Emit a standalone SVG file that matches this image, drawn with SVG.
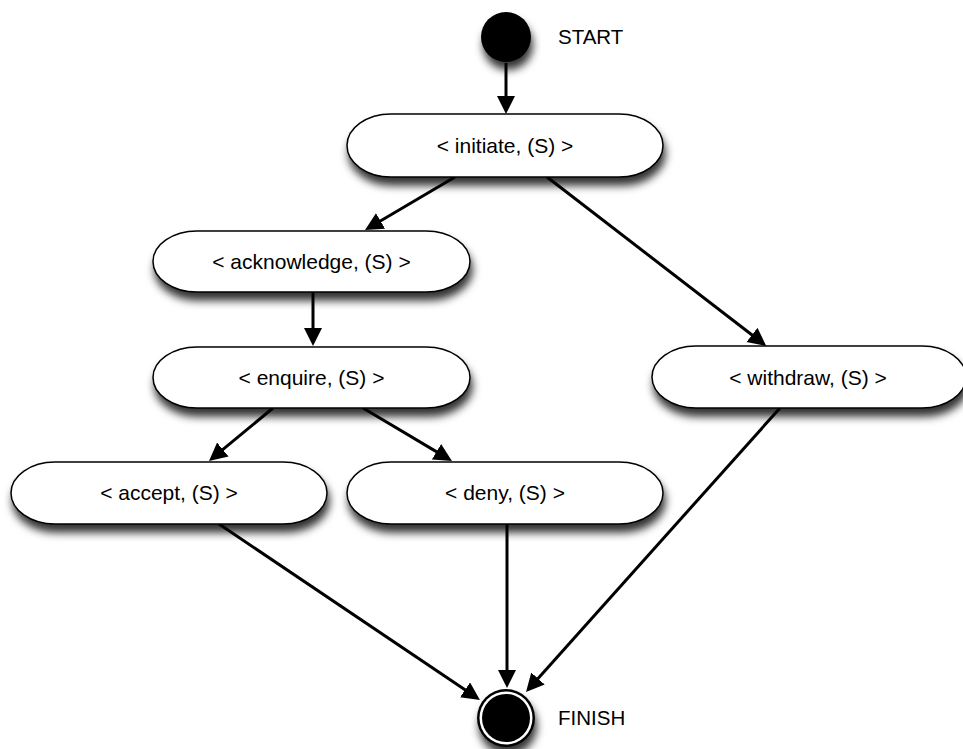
<svg xmlns="http://www.w3.org/2000/svg" width="963" height="749" viewBox="0 0 963 749">
  <style>
    .state { fill: #ffffff; stroke: #000000; stroke-width: 1.5; filter: url(#shadow); }
    .label { font-family: "Liberation Sans", Arial, sans-serif; font-size: 21px; fill: #000000; text-anchor: middle; }
    .term { font-family: "Liberation Sans", Arial, sans-serif; font-size: 20.5px; fill: #000000; }
    .edge { fill: none; stroke: #000000; stroke-width: 3; marker-end: url(#arrow); }
  </style>
  <defs>
    <filter id="shadow" x="-20%" y="-30%" width="140%" height="180%">
      <feDropShadow dx="2" dy="8" stdDeviation="4.5" flood-color="#000000" flood-opacity="0.8"/>
    </filter>
    <marker id="arrow" markerUnits="userSpaceOnUse" markerWidth="22" markerHeight="20" refX="12" refY="9" orient="auto">
      <path d="M0,0 L18,9 L0,18 Z" fill="#000000"/>
    </marker>
  </defs>

  <rect width="963" height="749" fill="#ffffff"/>

  <!-- connectors -->
  <g id="connectors">
    <path class="edge" d="M506,63 L506,108"/>
    <path class="edge" d="M455,177 L370.2,227"/>
    <path class="edge" d="M547,177 L761.5,342.3"/>
    <path class="edge" d="M313,292 L313,340"/>
    <path class="edge" d="M273,408 L213.6,457.2"/>
    <path class="edge" d="M363,408 L446.8,457.9"/>
    <path class="edge" d="M219,524 L475,696.6"/>
    <path class="edge" d="M507,524 L507,682"/>
    <path class="edge" d="M780,408 L530,687.5"/>
  </g>

  <!-- start / finish -->
  <g id="start">
    <circle cx="506" cy="37" r="25" fill="#000000" filter="url(#shadow)"/>
    <text class="term" x="558" y="44">START</text>
  </g>
  <g id="finish">
    <circle cx="506" cy="718" r="29" fill="#000000" filter="url(#shadow)"/>
    <circle cx="506" cy="718" r="26.5" fill="#ffffff"/>
    <circle cx="506" cy="718" r="24" fill="#000000"/>
    <text class="term" x="558" y="725">FINISH</text>
  </g>

  <!-- states -->
  <g id="initiate">
    <rect class="state" x="347" y="114" width="316" height="63" rx="44" ry="31.5"/>
    <text class="label" x="505" y="153">&lt; initiate, (S) &gt;</text>
  </g>
  <g id="acknowledge">
    <rect class="state" x="153" y="231" width="317" height="61" rx="44" ry="30.5"/>
    <text class="label" x="311.5" y="269">&lt; acknowledge, (S) &gt;</text>
  </g>
  <g id="enquire">
    <rect class="state" x="153" y="347" width="317" height="61" rx="44" ry="30.5"/>
    <text class="label" x="311.5" y="385">&lt; enquire, (S) &gt;</text>
  </g>
  <g id="withdraw">
    <rect class="state" x="652" y="346" width="314" height="62" rx="44" ry="31"/>
    <text class="label" x="808" y="385">&lt; withdraw, (S) &gt;</text>
  </g>
  <g id="accept">
    <rect class="state" x="11" y="462" width="316" height="62" rx="44" ry="31"/>
    <text class="label" x="169" y="500">&lt; accept, (S) &gt;</text>
  </g>
  <g id="deny">
    <rect class="state" x="347" y="462" width="316" height="62" rx="44" ry="31"/>
    <text class="label" x="505" y="500">&lt; deny, (S) &gt;</text>
  </g>
</svg>
